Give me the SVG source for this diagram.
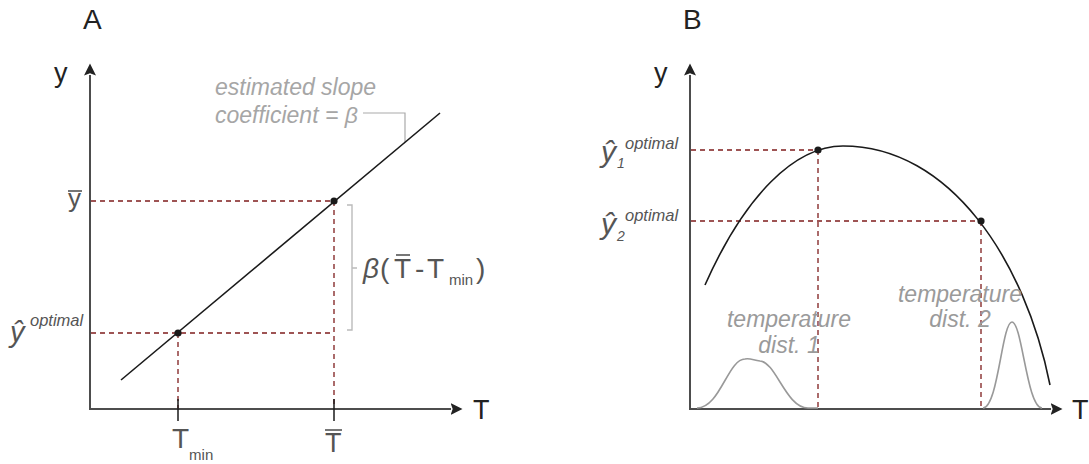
<svg xmlns="http://www.w3.org/2000/svg" width="1089" height="464" viewBox="0 0 1089 464">
<style>
text{font-family:"Liberation Sans",Arial,sans-serif}
.ax{stroke:#4d4d4d;stroke-width:2;fill:none}
.dash{stroke:#7f1d1d;stroke-width:1.3;stroke-dasharray:5,4;fill:none}
.crv{stroke:#1a1a1a;stroke-width:1.6;fill:none}
.dist{stroke:#999;stroke-width:1.6;fill:none}
.tick{stroke:#1a1a1a;stroke-width:1.5}
.lbl{fill:#222}
.gl{fill:#555}
.it{font-style:italic}
.note{fill:#a6a6a6;font-style:italic;font-size:23px}
.tmp{fill:#9a9a9a;font-style:italic;font-size:23px}
.dot{fill:#1a1a1a}
</style>
<defs>
<marker id="arr" viewBox="0 0 13 13" refX="0.5" refY="6.5" markerWidth="13" markerHeight="13" orient="auto" markerUnits="userSpaceOnUse">
<path d="M0,0.5 L12,6.5 L0,12.5 L2.2,6.5 z" fill="#222"/>
</marker>
</defs>

<g id="panelA">
<text id="labelA" class="lbl" x="83" y="29" font-size="28">A</text>
<g id="axesA">
<line class="ax" x1="90" y1="409" x2="90" y2="75" marker-end="url(#arr)"/>
<line class="ax" x1="89" y1="409" x2="451" y2="409" marker-end="url(#arr)"/>
<text class="lbl" x="54" y="82" font-size="27">y</text>
<text class="lbl" x="473" y="419" font-size="27">T</text>
</g>
<g id="connectorsA">
<line class="dash" x1="91" y1="201" x2="334" y2="201"/>
<line class="dash" x1="91" y1="333" x2="334" y2="333"/>
<line class="dash" x1="178" y1="333" x2="178" y2="408"/>
<line class="dash" x1="334" y1="201" x2="334" y2="408"/>
<line class="tick" x1="178" y1="399" x2="178" y2="421"/>
<line class="tick" x1="334" y1="399" x2="334" y2="421"/>
<polyline points="363,113 405,113 405,142" fill="none" stroke="#aaa" stroke-width="1.2"/>
<path d="M347,205 H352 V330 H347 M352,268 H357" fill="none" stroke="#bbb" stroke-width="1.4"/>
</g>
<g id="lineA">
<line class="crv" x1="121" y1="380" x2="440" y2="113"/>
<circle class="dot" cx="178" cy="333" r="3.6"/>
<circle class="dot" cx="334" cy="201" r="3.6"/>
</g>
<g id="ybar">
<text class="gl" x="68" y="207" font-size="26">y</text>
<line x1="68" y1="191" x2="82" y2="191" stroke="#555" stroke-width="1.6"/>
</g>
<g id="yhatA">
<text class="gl it" x="10" y="342" font-size="29">ŷ<tspan x="30" dy="-16" font-size="16.5">optimal</tspan></text>
</g>
<g id="tmin">
<text class="gl" x="172" y="448" font-size="28">T<tspan font-size="15" dy="12">min</tspan></text>
</g>
<g id="tbar">
<text class="gl" x="325" y="452" font-size="27">T</text>
<line x1="325" y1="430" x2="342" y2="430" stroke="#555" stroke-width="1.6"/>
</g>
<g id="betaExpr">
<text class="gl" y="278" font-size="28"><tspan class="it" x="363">β</tspan><tspan x="380">(</tspan><tspan x="394">T</tspan><tspan x="415">-</tspan><tspan x="427">T</tspan><tspan x="449" dy="7" font-size="15">min</tspan><tspan x="476" dy="-7">)</tspan></text>
<line x1="396" y1="255" x2="410" y2="255" stroke="#555" stroke-width="1.6"/>
</g>
<g id="slopeNote">
<text class="note" x="215" y="95">estimated slope</text>
<text class="note" x="215" y="123">coefficient = β</text>
</g>
</g>

<g id="panelB">
<text id="labelB" class="lbl" x="683" y="29" font-size="28">B</text>
<g id="axesB">
<line class="ax" x1="690" y1="409" x2="690" y2="75" marker-end="url(#arr)"/>
<line class="ax" x1="689" y1="409" x2="1051" y2="409" marker-end="url(#arr)"/>
<text class="lbl" x="654" y="82" font-size="27">y</text>
<text class="lbl" x="1072" y="419" font-size="27">T</text>
</g>
<g id="connectorsB">
<line class="dash" x1="691" y1="150" x2="818" y2="150"/>
<line class="dash" x1="691" y1="221" x2="981" y2="221"/>
<line class="dash" x1="818" y1="150" x2="818" y2="408"/>
<line class="dash" x1="981" y1="221" x2="981" y2="408"/>
</g>
<g id="curveB">
<path class="crv" d="M705,285 C745,195 795,146 843,146 C950,146 1025,260 1050,385"/>
<circle class="dot" cx="818" cy="150" r="3.6"/>
<circle class="dot" cx="981" cy="221" r="3.6"/>
</g>
<g id="dist1">
<path class="dist" d="M697,408 C720,408 728,359 745,359 C750,358 753,360 760,361 C776,362 786,408 808,408 L818,408"/>
<text class="tmp" x="789" y="327" text-anchor="middle">temperature</text>
<text class="tmp" x="789" y="353" text-anchor="middle">dist. 1</text>
</g>
<g id="dist2">
<path class="dist" d="M983,408 C998,408 1002,322 1012,322 C1022,322 1027,408 1042,408"/>
<text class="tmp" x="960" y="302" text-anchor="middle">temperature</text>
<text class="tmp" x="960" y="327" text-anchor="middle">dist. 2</text>
</g>
<g id="yhat1">
<text class="gl it" x="601" y="162" font-size="30">ŷ<tspan x="617" dy="6" font-size="14">1</tspan><tspan x="625" dy="-19" font-size="16.5">optimal</tspan></text>
</g>
<g id="yhat2">
<text class="gl it" x="601" y="234" font-size="30">ŷ<tspan x="617" dy="7" font-size="14">2</tspan><tspan x="625" dy="-20" font-size="16.5">optimal</tspan></text>
</g>
</g>
</svg>
